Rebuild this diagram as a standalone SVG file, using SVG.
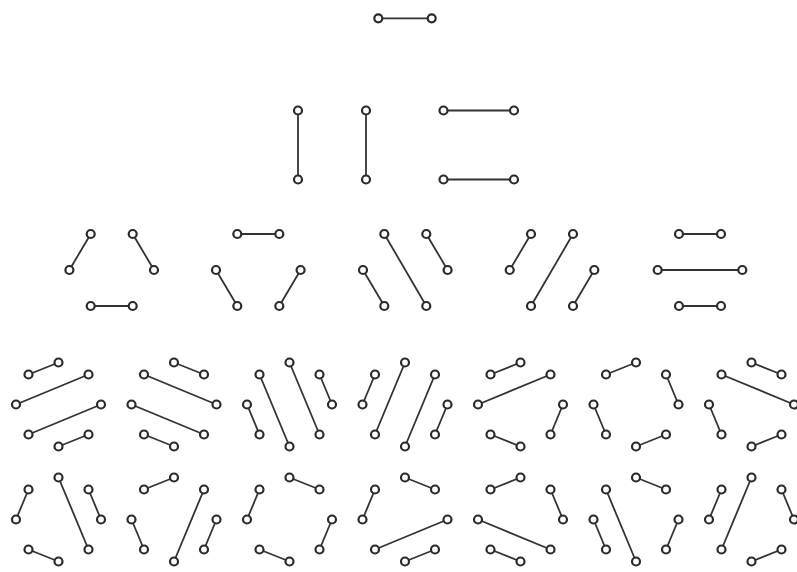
<svg xmlns="http://www.w3.org/2000/svg" xmlns:xlink="http://www.w3.org/1999/xlink" width="797" height="572" viewBox="0 0 797 572">
<style>
.e{stroke:#333;stroke-width:1.8;fill:none;stroke-linecap:round}
.p{fill:#fff;stroke:#2a2a2a;stroke-width:2.2}
</style>
<defs>
<g id="oct-pts">
<circle class="p" cx="0" cy="-42" r="4"/><circle class="p" cx="30" cy="-30" r="4"/><circle class="p" cx="42.5" cy="0" r="4"/><circle class="p" cx="30" cy="30" r="4"/><circle class="p" cx="0" cy="42" r="4"/><circle class="p" cx="-30" cy="30" r="4"/><circle class="p" cx="-42.5" cy="0" r="4"/><circle class="p" cx="-30" cy="-30" r="4"/>
</g>
<g id="hex-pts">
<circle class="p" cx="-21" cy="-36" r="4"/><circle class="p" cx="21" cy="-36" r="4"/><circle class="p" cx="42.3" cy="0" r="4"/><circle class="p" cx="21" cy="36" r="4"/><circle class="p" cx="-21" cy="36" r="4"/><circle class="p" cx="-42.3" cy="0" r="4"/>
</g>
</defs>
<rect width="797" height="572" fill="#fff"/>

<!-- row 1 -->
<g id="m2-1">
<g class="connectors"><line class="e" x1="378.3" y1="18.3" x2="431.7" y2="18.3"/></g>
<circle class="p" cx="378.3" cy="18.3" r="4"/><circle class="p" cx="431.7" cy="18.3" r="4"/>
</g>

<!-- row 2 -->
<g id="m4-1">
<g class="connectors"><line class="e" x1="298" y1="110.5" x2="298" y2="179.5"/><line class="e" x1="366" y1="110.5" x2="366" y2="179.5"/></g>
<circle class="p" cx="298" cy="110.5" r="4"/><circle class="p" cx="298" cy="179.5" r="4"/><circle class="p" cx="366" cy="110.5" r="4"/><circle class="p" cx="366" cy="179.5" r="4"/>
</g>
<g id="m4-2">
<g class="connectors"><line class="e" x1="443.5" y1="110.5" x2="514" y2="110.5"/><line class="e" x1="443.5" y1="179.5" x2="514" y2="179.5"/></g>
<circle class="p" cx="443.5" cy="110.5" r="4"/><circle class="p" cx="514" cy="110.5" r="4"/><circle class="p" cx="443.5" cy="179.5" r="4"/><circle class="p" cx="514" cy="179.5" r="4"/>
</g>

<!-- row 3: hexagons -->
<g id="m6-1" transform="translate(111.7,270)">
<g class="connectors"><line class="e" x1="-21" y1="-36" x2="-42.3" y2="0"/><line class="e" x1="21" y1="-36" x2="42.3" y2="0"/><line class="e" x1="-21" y1="36" x2="21" y2="36"/></g>
<use href="#hex-pts"/>
</g>
<g id="m6-2" transform="translate(258.3,270)">
<g class="connectors"><line class="e" x1="-21" y1="-36" x2="21" y2="-36"/><line class="e" x1="-42.3" y1="0" x2="-21" y2="36"/><line class="e" x1="42.3" y1="0" x2="21" y2="36"/></g>
<use href="#hex-pts"/>
</g>
<g id="m6-3" transform="translate(405.3,270)">
<g class="connectors"><line class="e" x1="-21" y1="-36" x2="21" y2="36"/><line class="e" x1="21" y1="-36" x2="42.3" y2="0"/><line class="e" x1="-42.3" y1="0" x2="-21" y2="36"/></g>
<use href="#hex-pts"/>
</g>
<g id="m6-4" transform="translate(552,270)">
<g class="connectors"><line class="e" x1="-21" y1="-36" x2="-42.3" y2="0"/><line class="e" x1="21" y1="-36" x2="-21" y2="36"/><line class="e" x1="42.3" y1="0" x2="21" y2="36"/></g>
<use href="#hex-pts"/>
</g>
<g id="m6-5" transform="translate(700,270)">
<g class="connectors"><line class="e" x1="-21" y1="-36" x2="21" y2="-36"/><line class="e" x1="-42.3" y1="0" x2="42.3" y2="0"/><line class="e" x1="-21" y1="36" x2="21" y2="36"/></g>
<use href="#hex-pts"/>
</g>

<!-- rows 4-5: octagons -->
<g id="m8-1" transform="translate(58.5,404.5)">
<g class="connectors"><line class="e" x1="-30" y1="-30" x2="0" y2="-42"/><line class="e" x1="30" y1="-30" x2="-42.5" y2="0"/><line class="e" x1="42.5" y1="0" x2="-30" y2="30"/><line class="e" x1="30" y1="30" x2="0" y2="42"/></g>
<use href="#oct-pts"/>
</g>
<g id="m8-2" transform="translate(174,404.5)">
<g class="connectors"><line class="e" x1="0" y1="-42" x2="30" y2="-30"/><line class="e" x1="-30" y1="-30" x2="42.5" y2="0"/><line class="e" x1="-42.5" y1="0" x2="30" y2="30"/><line class="e" x1="-30" y1="30" x2="0" y2="42"/></g>
<use href="#oct-pts"/>
</g>
<g id="m8-3" transform="translate(289.5,404.5)">
<g class="connectors"><line class="e" x1="-30" y1="-30" x2="0" y2="42"/><line class="e" x1="0" y1="-42" x2="30" y2="30"/><line class="e" x1="30" y1="-30" x2="42.5" y2="0"/><line class="e" x1="-42.5" y1="0" x2="-30" y2="30"/></g>
<use href="#oct-pts"/>
</g>
<g id="m8-4" transform="translate(405,404.5)">
<g class="connectors"><line class="e" x1="-30" y1="-30" x2="-42.5" y2="0"/><line class="e" x1="0" y1="-42" x2="-30" y2="30"/><line class="e" x1="30" y1="-30" x2="0" y2="42"/><line class="e" x1="42.5" y1="0" x2="30" y2="30"/></g>
<use href="#oct-pts"/>
</g>
<g id="m8-5" transform="translate(520.5,404.5)">
<g class="connectors"><line class="e" x1="-30" y1="-30" x2="0" y2="-42"/><line class="e" x1="-42.5" y1="0" x2="30" y2="-30"/><line class="e" x1="42.5" y1="0" x2="30" y2="30"/><line class="e" x1="-30" y1="30" x2="0" y2="42"/></g>
<use href="#oct-pts"/>
</g>
<g id="m8-6" transform="translate(636,404.5)">
<g class="connectors"><line class="e" x1="-30" y1="-30" x2="0" y2="-42"/><line class="e" x1="30" y1="-30" x2="42.5" y2="0"/><line class="e" x1="-42.5" y1="0" x2="-30" y2="30"/><line class="e" x1="0" y1="42" x2="30" y2="30"/></g>
<use href="#oct-pts"/>
</g>
<g id="m8-7" transform="translate(751.5,404.5)">
<g class="connectors"><line class="e" x1="0" y1="-42" x2="30" y2="-30"/><line class="e" x1="-30" y1="-30" x2="42.5" y2="0"/><line class="e" x1="-42.5" y1="0" x2="-30" y2="30"/><line class="e" x1="0" y1="42" x2="30" y2="30"/></g>
<use href="#oct-pts"/>
</g>

<g id="m8-8" transform="translate(58.5,519.5)">
<g class="connectors"><line class="e" x1="-30" y1="-30" x2="-42.5" y2="0"/><line class="e" x1="0" y1="-42" x2="30" y2="30"/><line class="e" x1="30" y1="-30" x2="42.5" y2="0"/><line class="e" x1="-30" y1="30" x2="0" y2="42"/></g>
<use href="#oct-pts"/>
</g>
<g id="m8-9" transform="translate(174,519.5)">
<g class="connectors"><line class="e" x1="-30" y1="-30" x2="0" y2="-42"/><line class="e" x1="30" y1="-30" x2="0" y2="42"/><line class="e" x1="-42.5" y1="0" x2="-30" y2="30"/><line class="e" x1="42.5" y1="0" x2="30" y2="30"/></g>
<use href="#oct-pts"/>
</g>
<g id="m8-10" transform="translate(289.5,519.5)">
<g class="connectors"><line class="e" x1="-30" y1="-30" x2="-42.5" y2="0"/><line class="e" x1="0" y1="-42" x2="30" y2="-30"/><line class="e" x1="42.5" y1="0" x2="30" y2="30"/><line class="e" x1="-30" y1="30" x2="0" y2="42"/></g>
<use href="#oct-pts"/>
</g>
<g id="m8-11" transform="translate(405,519.5)">
<g class="connectors"><line class="e" x1="-30" y1="-30" x2="-42.5" y2="0"/><line class="e" x1="0" y1="-42" x2="30" y2="-30"/><line class="e" x1="42.5" y1="0" x2="-30" y2="30"/><line class="e" x1="30" y1="30" x2="0" y2="42"/></g>
<use href="#oct-pts"/>
</g>
<g id="m8-12" transform="translate(520.5,519.5)">
<g class="connectors"><line class="e" x1="-30" y1="-30" x2="0" y2="-42"/><line class="e" x1="30" y1="-30" x2="42.5" y2="0"/><line class="e" x1="-42.5" y1="0" x2="30" y2="30"/><line class="e" x1="-30" y1="30" x2="0" y2="42"/></g>
<use href="#oct-pts"/>
</g>
<g id="m8-13" transform="translate(636,519.5)">
<g class="connectors"><line class="e" x1="0" y1="-42" x2="30" y2="-30"/><line class="e" x1="-30" y1="-30" x2="0" y2="42"/><line class="e" x1="-42.5" y1="0" x2="-30" y2="30"/><line class="e" x1="42.5" y1="0" x2="30" y2="30"/></g>
<use href="#oct-pts"/>
</g>
<g id="m8-14" transform="translate(751.5,519.5)">
<g class="connectors"><line class="e" x1="-30" y1="-30" x2="-42.5" y2="0"/><line class="e" x1="0" y1="-42" x2="-30" y2="30"/><line class="e" x1="30" y1="-30" x2="42.5" y2="0"/><line class="e" x1="30" y1="30" x2="0" y2="42"/></g>
<use href="#oct-pts"/>
</g>
</svg>
